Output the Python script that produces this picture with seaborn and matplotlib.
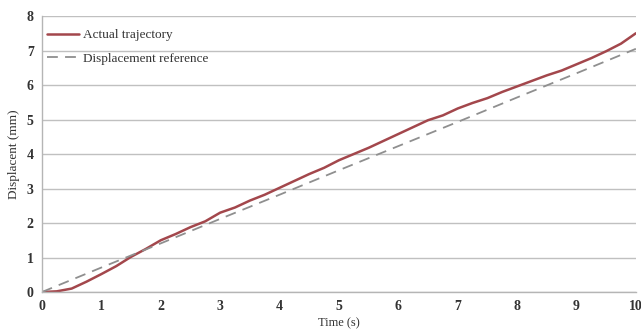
import matplotlib
matplotlib.use("Agg")
import matplotlib.pyplot as plt
import seaborn as sns
import pandas as pd

time_actual = [0, 0.25, 0.5, 0.75, 1, 1.25, 1.5, 1.75, 2, 2.25, 2.5, 2.75, 3, 3.25, 3.5, 3.75,
               4, 4.25, 4.5, 4.75, 5, 5.25, 5.5, 5.75, 6, 6.25, 6.5, 6.75, 7, 7.25, 7.5, 7.75,
               8, 8.25, 8.5, 8.75, 9, 9.25, 9.5, 9.75, 10]
actual = [0, 0.02, 0.1, 0.3, 0.52, 0.75, 1.02, 1.25, 1.5, 1.68, 1.88, 2.05, 2.3, 2.45, 2.65, 2.82,
          3.02, 3.22, 3.42, 3.6, 3.82, 4.0, 4.18, 4.38, 4.58, 4.78, 4.98, 5.12, 5.32, 5.48, 5.62, 5.8,
          5.96, 6.12, 6.28, 6.42, 6.6, 6.78, 6.98, 7.2, 7.5]
time_ref = [0, 1, 2, 3, 4, 5, 6, 7, 8, 9, 10]
reference = [0, 0.71, 1.41, 2.12, 2.82, 3.53, 4.23, 4.93, 5.64, 6.34, 7.05]
xticks = [0, 1, 2, 3, 4, 5, 6, 7, 8, 9, 10]
yticks = [0, 1, 2, 3, 4, 5, 6, 7, 8]

sns.set_style("white")
plt.rcParams['font.family'] = ['Liberation Serif', 'DejaVu Serif']

fig = plt.figure(figsize=(6.41, 3.34), dpi=100)
ax = fig.add_axes([0.0655, 0.1257, 0.9265, 0.8263])

df_a = pd.DataFrame({"t": time_actual, "y": actual})
df_r = pd.DataFrame({"t": time_ref, "y": reference})
sns.lineplot(data=df_a, x="t", y="y", ax=ax, color="#a3474c", linewidth=1.8,
             label="Actual trajectory")
sns.lineplot(data=df_r, x="t", y="y", ax=ax, color="#8f8f8f", linewidth=1.3,
             linestyle=(0, (6, 4)), label="Displacement reference")

ax.set_xlim(0, 10)
ax.set_ylim(0, 8)
ax.set_xticks(xticks)
ax.set_yticks(yticks)
ax.yaxis.grid(True, color="#c0c0c0", linewidth=1.0)
ax.xaxis.grid(False)
for s in ["top", "right"]:
    ax.spines[s].set_visible(False)
for s in ["left", "bottom"]:
    ax.spines[s].set_color("#b5b5b5")
    ax.spines[s].set_linewidth(1.0)
ax.tick_params(axis="x", direction="in", length=3, color="#b5b5b5", pad=6,
               labelsize=10)
ax.tick_params(axis="y", length=0, pad=6, labelsize=10)
for lbl in ax.get_xticklabels() + ax.get_yticklabels():
    lbl.set_fontweight("bold")
    lbl.set_color("#333333")
ax.set_xlabel("Time (s)", fontsize=9, color="#333333", labelpad=3)
ax.set_ylabel("Displacent (mm)", fontsize=9.5, color="#333333", labelpad=5)

leg = ax.legend(loc="upper left", bbox_to_anchor=(-0.013, 1.0), frameon=False,
                fontsize=9.5, handlelength=2.4, borderaxespad=0.6,
                labelspacing=0.85, handletextpad=0.3)
for t in leg.get_texts():
    t.set_color("#333333")

fig.savefig("out.png", dpi=100)
